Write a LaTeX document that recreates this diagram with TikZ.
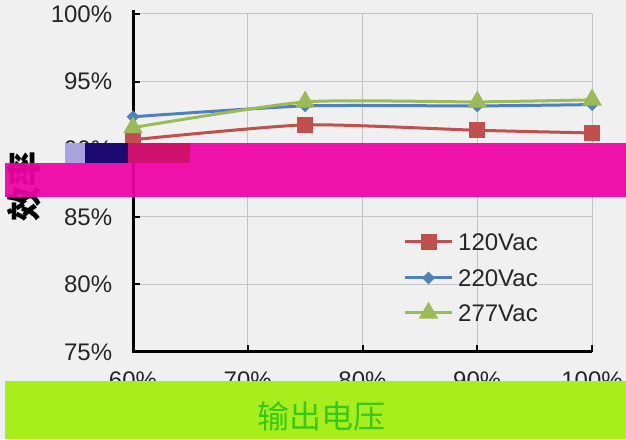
\documentclass[tikz,border=0pt]{standalone}
\usepackage{fontspec}
\setmainfont{Liberation Sans}
\newfontfamily\cjk{Noto Sans CJK SC}
\usepackage{tikz}
\usetikzlibrary{positioning}
\usetikzlibrary{calc}
\usetikzlibrary{shapes}

\definecolor{bgcol}{HTML}{F0F0F0}
\definecolor{gridcol}{HTML}{C4C4C4}
\definecolor{redcol}{HTML}{C0504D}
\definecolor{bluecol}{HTML}{4F81BD}
\definecolor{greencol}{HTML}{9BBB59}
\definecolor{magcol}{HTML}{EE00A6}
\definecolor{navycol}{HTML}{1C0A70}
\definecolor{lavcol}{HTML}{A9A2DC}
\definecolor{crimcol}{HTML}{D0126E}
\definecolor{limecol}{HTML}{A8EE1C}
\definecolor{leafcol}{HTML}{38C81A}

\begin{document}
\begin{tikzpicture}[
    x=1pt, y=1pt,
    font=\fontsize{24}{24}\selectfont,
    ]
% -------------------------------------------------
\tikzset{
  gridline/.style={draw=gridcol, line width=1pt},
  axisline/.style={draw=black, line width=3pt},
  ticklabel/.style={inner sep=0pt, text=black!85},
  series/.style={line width=3pt, smooth, tension=0.35},
  sqmark/.style={rectangle, fill=redcol, minimum size=16pt, inner sep=0pt},
  dimark/.style={diamond, fill=bluecol, minimum size=13pt, inner sep=0pt},
  trimark/.style={isosceles triangle, shape border rotate=90, isosceles triangle apex angle=60,
                  fill=greencol, minimum size=17pt, inner sep=0pt},
  legtext/.style={anchor=west, inner sep=0pt, text=black!85},
  overband/.style={fill=magcol, fill opacity=0.92}
}
% -------------------------------------------------
\fill[bgcol] (0,0) rectangle (626,439);
\useasboundingbox (0,0) rectangle (626,439);

% Plot area (60%..100% by 75%..100%)
\begin{scope}[shift={(133,87)}, x=11.475pt, y=13.52pt]
  \foreach \v in {5,10,15,20,25}
    \draw[gridline] (0,\v) -- (40,\v);
  \foreach \p in {10,20,30,40}
    \draw[gridline] (\p,0) -- (\p,25);

  \foreach \v in {5,10,15,20,25}
    \draw[black, line width=2pt] (0,\v) -- ++(0.6,0);
  \foreach \p in {10,20,30,40}
    \draw[black, line width=2pt] (\p,0) -- ++(0,0.5);
  \draw[axisline] (0,25.3) -- (0,0) -- (40,0);

  \foreach \v/\t in {0/75,5/80,10/85,15/90,20/95,25/100}
    \node[ticklabel, anchor=east] (y\t) at (-1.8,\v) {\t\%};
  \foreach \p/\t in {0/60,10/70,20/80,30/90,40/100}
    \node[ticklabel] (x\t) at (\p,-2.1) {\t\%};

  % data points
  \coordinate (r1) at (0,15.7);  \coordinate (r2) at (15,16.8);
  \coordinate (r3) at (30,16.4); \coordinate (r4) at (40,16.2);
  \coordinate (b1) at (0,17.4);  \coordinate (b2) at (15,18.2);
  \coordinate (b3) at (30,18.2); \coordinate (b4) at (40,18.3);
  \coordinate (g1) at (0,16.6);  \coordinate (g2) at (15,18.5);
  \coordinate (g3) at (30,18.5); \coordinate (g4) at (40,18.65);

  \draw[series, redcol]   plot coordinates {(r1) (r2) (r3) (r4)};
  \draw[series, bluecol]  plot coordinates {(b1) (b2) (b3) (b4)};
  \draw[series, greencol] plot coordinates {(g1) (g2) (g3) (g4)};

  \foreach \n in {r1,r2,r3,r4} \node[sqmark] at (\n) {};
  \foreach \n in {b1,b2,b3,b4} \node[dimark] at (\n) {};
  \foreach \n in {g1,g2,g3,g4} \node[trimark] at (\n) {};
\end{scope}

% Legend
\coordinate (la) at (405,197); \coordinate (lb) at (452,197);
\coordinate (lc) at (405,161); \coordinate (ld) at (452,161);
\coordinate (le) at (405,126); \coordinate (lf) at (452,126);
\draw[redcol, line width=3pt] (la) -- (lb);
\node[sqmark] at ($(la)!0.5!(lb)$) {};
\draw[bluecol, line width=3pt] (lc) -- (ld);
\node[dimark] at ($(lc)!0.5!(ld)$) {};
\draw[greencol, line width=3pt] (le) -- (lf);
\node[trimark] at ($(le)!0.5!(lf)$) {};
\node[legtext, right=6pt of lb] (t120) {120Vac};
\node[legtext, right=6pt of ld] (t220) {220Vac};
\node[legtext, right=6pt of lf] (t277) {277Vac};

% Axis title
\node[font=\cjk\bfseries\fontsize{35}{35}\selectfont, rotate=90, inner sep=0pt] (yt) at (24,252) {效率};

% Overlaid bands
\fill[overband] (5,242) rectangle (626,276);
\fill[overband] (190,276) rectangle (626,296);
\fill[lavcol] (65,276) rectangle (85,296);
\fill[navycol] (85,276) rectangle (128,296);
\fill[crimcol] (128,276) rectangle (190,296);
\fill[limecol] (5,0) rectangle (626,58);
\node[font=\cjk\fontsize{32}{32}\selectfont, text=leafcol] (xt) at (321,23) {输出电压};

\end{tikzpicture}
\end{document}
